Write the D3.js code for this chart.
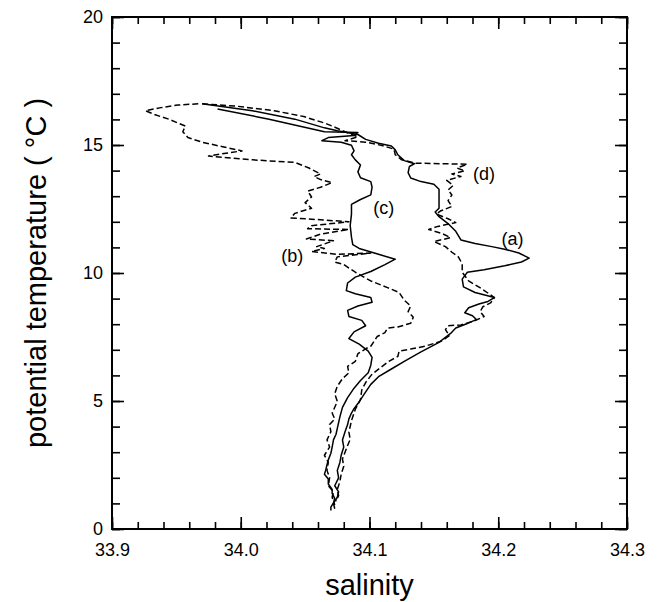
<!DOCTYPE html>
<html>
<head>
<meta charset="utf-8">
<script src="https://cdn.jsdelivr.net/npm/d3@7"></script>
<style>
  body { margin: 0; background: #fff; }
  text { font-family: "Liberation Sans", Arial, sans-serif; fill: #000; }
</style>
</head>
<body>
<div id="chart"></div>
<script>
// salinity / potential temperature pairs, surface to bottom
var curveA = [
  [33.970,16.61],[34.009,16.34],[34.042,16.01],[34.065,15.67],[34.075,15.56],
  [34.091,15.41],[34.097,15.22],[34.107,15.07],[34.117,14.96],[34.120,14.81],
  [34.122,14.62],[34.127,14.39],[34.135,14.27],[34.131,14.16],[34.130,13.92],
  [34.132,13.71],[34.140,13.57],[34.150,13.47],[34.154,13.27],[34.154,12.90],
  [34.154,12.53],[34.151,12.38],[34.154,12.20],[34.161,11.93],[34.167,11.63],
  [34.171,11.29],[34.182,11.15],[34.195,11.03],[34.205,10.93],[34.216,10.78],
  [34.224,10.58],[34.218,10.43],[34.205,10.28],[34.189,10.13],[34.176,10.03],
  [34.172,9.76],[34.173,9.46],[34.182,9.24],[34.197,9.04],[34.192,8.89],
  [34.185,8.79],[34.177,8.64],[34.174,8.45],[34.180,8.33],[34.183,8.18],
  [34.176,8.03],[34.167,7.85],[34.163,7.64],[34.159,7.49],[34.154,7.29],
  [34.140,6.92],[34.127,6.55],[34.117,6.25],[34.107,5.95],[34.101,5.65],
  [34.096,5.28],[34.091,4.90],[34.088,4.70],[34.086,4.53],[34.084,4.30],
  [34.083,4.08],[34.081,3.80],[34.079,3.48],[34.080,3.20],[34.078,2.88],
  [34.077,2.60],[34.075,2.29],[34.076,2.00],[34.073,1.69],[34.076,1.45],
  [34.075,1.24],[34.072,1.00],[34.073,0.79]
];

var curveB = [
  [33.967,16.61],[33.951,16.56],[33.938,16.46],[33.926,16.34],[33.933,16.19],
  [33.944,16.01],[33.957,15.74],[33.955,15.52],[33.959,15.29],[33.970,15.11],
  [33.987,14.92],[34.001,14.77],[33.990,14.69],[33.975,14.57],[33.987,14.51],
  [34.009,14.42],[34.042,14.32],[34.053,14.10],[34.062,13.87],[34.057,13.77],
  [34.062,13.65],[34.071,13.53],[34.062,13.35],[34.052,13.20],[34.055,12.97],
  [34.050,12.75],[34.055,12.53],[34.042,12.33],[34.039,12.15],[34.062,12.08],
  [34.084,12.00],[34.055,11.85],[34.052,11.73],[34.084,11.70],[34.062,11.52],
  [34.051,11.33],[34.072,11.26],[34.059,11.03],[34.065,10.96],[34.055,10.84],
  [34.075,10.73],[34.101,10.78],[34.075,10.63],[34.073,10.43],[34.080,10.33],
  [34.089,10.03],[34.101,9.69],[34.114,9.43],[34.123,9.24],[34.127,8.94],
  [34.132,8.71],[34.130,8.49],[34.134,8.27],[34.132,8.04],[34.122,7.89],
  [34.114,7.85],[34.112,7.67],[34.106,7.52],[34.101,7.14],[34.097,7.04],
  [34.091,6.85],[34.089,6.55],[34.083,6.35],[34.084,6.10],[34.079,5.87],
  [34.075,5.58],[34.073,5.28],[34.075,4.98],[34.071,4.53],[34.073,4.30],
  [34.069,4.08],[34.070,3.80],[34.067,3.48],[34.069,3.20],[34.065,2.88],
  [34.068,2.60],[34.067,2.29],[34.069,2.00],[34.068,1.69],[34.072,1.45],
  [34.071,1.24],[34.073,0.94]
];

var curveC = [
  [33.982,16.41],[34.022,16.01],[34.065,15.52],[34.091,15.49],[34.088,15.37],
  [34.068,15.29],[34.063,15.17],[34.078,15.11],[34.086,14.99],[34.088,14.77],
  [34.086,14.62],[34.089,14.42],[34.093,14.22],[34.091,13.95],[34.093,13.72],
  [34.101,13.57],[34.102,13.35],[34.101,13.05],[34.093,12.87],[34.086,12.68],
  [34.086,12.30],[34.085,11.85],[34.086,11.40],[34.087,11.11],[34.092,10.96],
  [34.107,10.73],[34.120,10.54],[34.112,10.33],[34.101,10.06],[34.089,9.84],
  [34.083,9.61],[34.082,9.31],[34.089,9.19],[34.101,9.04],[34.102,8.86],
  [34.091,8.71],[34.083,8.54],[34.084,8.30],[34.094,8.15],[34.097,7.94],
  [34.088,7.70],[34.084,7.44],[34.092,7.22],[34.099,6.95],[34.102,6.70],
  [34.101,6.40],[34.099,6.10],[34.093,5.80],[34.088,5.50],[34.083,5.13],
  [34.079,4.75],[34.077,4.38],[34.075,3.93],[34.074,3.70],[34.072,3.48],
  [34.071,3.20],[34.070,2.96],[34.068,2.70],[34.067,2.51],[34.066,2.30],
  [34.065,2.14],[34.068,1.95],[34.068,1.76],[34.071,1.55],[34.071,1.39],
  [34.073,1.20],[34.072,1.02],[34.070,0.85],[34.070,0.72]
];

var curveD = [
  [33.970,16.61],[33.996,16.52],[34.026,16.34],[34.049,16.11],[34.065,15.86],
  [34.071,15.74],[34.081,15.52],[34.091,15.32],[34.081,15.17],[34.097,15.11],
  [34.109,14.99],[34.119,14.84],[34.120,14.62],[34.125,14.42],[34.136,14.29],
  [34.156,14.27],[34.176,14.25],[34.168,14.10],[34.174,13.99],[34.164,13.87],
  [34.171,13.77],[34.160,13.62],[34.165,13.42],[34.161,13.24],[34.164,13.05],
  [34.161,12.83],[34.164,12.60],[34.155,12.42],[34.152,12.30],[34.161,12.12],
  [34.167,11.97],[34.153,11.82],[34.146,11.70],[34.156,11.55],[34.163,11.38],
  [34.150,11.23],[34.159,11.03],[34.164,10.81],[34.169,10.63],[34.172,10.36],
  [34.172,10.03],[34.177,9.69],[34.187,9.39],[34.197,9.04],[34.194,8.83],
  [34.188,8.68],[34.186,8.49],[34.189,8.30],[34.181,8.12],[34.171,7.97],
  [34.161,7.94],[34.159,7.79],[34.162,7.55],[34.156,7.34],[34.143,7.14],
  [34.133,7.04],[34.123,6.95],[34.122,6.74],[34.115,6.55],[34.109,6.32],
  [34.102,6.05],[34.097,5.72],[34.094,5.43],[34.093,5.05],[34.089,4.68],
  [34.086,4.23],[34.084,3.78],[34.085,3.50],[34.083,3.26],[34.081,3.00],
  [34.079,2.74],[34.080,2.45],[34.078,2.14],[34.077,1.85],[34.075,1.54],
  [34.076,1.30],[34.074,1.09]
];

var curves = [
  {name: "a", pts: curveA, dashed: false},
  {name: "b", pts: curveB, dashed: true},
  {name: "c", pts: curveC, dashed: false},
  {name: "d", pts: curveD, dashed: true}
];

// curve labels: [text, salinity, temperature]
var labels = [["(a)",34.211,11.33],["(b)",34.040,10.69],["(c)",34.111,12.56],["(d)",34.189,13.87]];

var xTickValues = [33.9, 34.0, 34.1, 34.2, 34.3];
var yTickValues = [0, 5, 10, 15, 20];

const width = 661;
const height = 602;
const margin = {top: 17, left: 112, right: 34, bottom: 73};

var svg = d3.select("#chart").append("svg")
  .attr("width", width)
  .attr("height", height);

var xScale = d3.scaleLinear().domain([33.9, 34.3]).range([margin.left, width - margin.right]);
var yScale = d3.scaleLinear().domain([0, 20]).range([height - margin.bottom, margin.top]);

var minorX = d3.range(0, 21).map(function(i) { return 33.9 + i * 0.02; });
var minorY = d3.range(0, 21);

// ticks point inward on all four sides
function tickAxis(axisFn, scale, vals, size, fmt) {
  return axisFn(scale).tickValues(vals).tickSizeInner(-size).tickSizeOuter(0).tickFormat(fmt);
}

var noLabel = function() { return ""; };

svg.append("g").attr("transform", `translate(0,${yScale(0)})`)
  .call(tickAxis(d3.axisBottom, xScale, minorX, 7, noLabel));
var gxMajor = svg.append("g").attr("transform", `translate(0,${yScale(0)})`)
  .call(tickAxis(d3.axisBottom, xScale, xTickValues, 12, d3.format(".1f")));
gxMajor.selectAll("text").attr("y", 14).attr("dy", "0.71em").style("font-size", "18px");

svg.append("g").attr("transform", `translate(0,${yScale(20)})`)
  .call(tickAxis(d3.axisTop, xScale, minorX, 7, noLabel));
svg.append("g").attr("transform", `translate(0,${yScale(20)})`)
  .call(tickAxis(d3.axisTop, xScale, xTickValues, 12, noLabel));

svg.append("g").attr("transform", `translate(${xScale(33.9)},0)`)
  .call(tickAxis(d3.axisLeft, yScale, minorY, 8, noLabel));
var gyMajor = svg.append("g").attr("transform", `translate(${xScale(33.9)},0)`)
  .call(tickAxis(d3.axisLeft, yScale, yTickValues, 12, d3.format("d")));
gyMajor.selectAll("text").attr("x", -9).attr("dy", "0.3em").style("font-size", "18px");

svg.append("g").attr("transform", `translate(${xScale(34.3)},0)`)
  .call(tickAxis(d3.axisRight, yScale, minorY, 8, noLabel));
svg.append("g").attr("transform", `translate(${xScale(34.3)},0)`)
  .call(tickAxis(d3.axisRight, yScale, yTickValues, 12, noLabel));

svg.selectAll(".domain").remove();
svg.selectAll(".tick line").attr("stroke", "#000").attr("stroke-width", 1.6);

// frame
svg.append("rect")
  .attr("x", xScale(33.9)).attr("y", yScale(20))
  .attr("width", xScale(34.3) - xScale(33.9))
  .attr("height", yScale(0) - yScale(20))
  .attr("fill", "none").attr("stroke", "#000").attr("stroke-width", 2);

var line = d3.line()
  .x(function(d) { return xScale(d[0]); })
  .y(function(d) { return yScale(d[1]); });

svg.selectAll("path.profile")
  .data(curves)
  .enter().append("path")
  .attr("class", "profile")
  .attr("d", function(d) { return line(d.pts); })
  .attr("fill", "none")
  .attr("stroke", "#000")
  .attr("stroke-width", 1.5)
  .attr("stroke-linejoin", "round")
  .attr("stroke-dasharray", function(d) { return d.dashed ? "6,3" : null; });

svg.selectAll("text.lbl")
  .data(labels)
  .enter().append("text")
  .attr("class", "lbl")
  .attr("x", function(d) { return xScale(d[1]); })
  .attr("y", function(d) { return yScale(d[2]); })
  .attr("dy", "0.35em")
  .attr("text-anchor", "middle")
  .style("font-size", "18px")
  .text(function(d) { return d[0]; });

svg.append("text")
  .attr("x", (xScale(33.9) + xScale(34.3)) / 2)
  .attr("y", 595)
  .attr("text-anchor", "middle")
  .style("font-size", "29px")
  .text("salinity");

svg.append("text")
  .attr("transform", `translate(46,${(yScale(0) + yScale(20)) / 2}) rotate(-90)`)
  .attr("text-anchor", "middle")
  .style("font-size", "29px")
  .text("potential temperature ( °C )");
</script>
</body>
</html>
